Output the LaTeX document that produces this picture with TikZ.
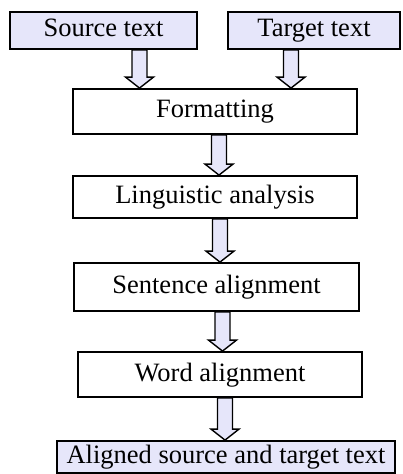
\documentclass[tikz,border=0pt]{standalone}
\usepackage{fontspec}
\setmainfont{Liberation Serif}
\usetikzlibrary{calc}

\definecolor{boxfill}{RGB}{230,230,250}

% Draw a hollow block arrow from a coordinate down to the top of a node
\newcommand{\blockarrow}[2]{%
  \draw[arrowbody] let \p1=(#1), \p2=(#1 |- #2.north) in
    (\x1-3.75pt,\y1) -- (\x1+3.75pt,\y1) -- (\x1+3.75pt,\y2+5.5pt)
    -- (\x1+7pt,\y2+5.5pt) -- (\x2,\y2) -- (\x1-7pt,\y2+5.5pt)
    -- (\x1-3.75pt,\y2+5.5pt) -- cycle;}

\tikzset{
  stage/.style={draw, line width=0.9pt, inner sep=0pt, fill=white,
    text height=9.5pt, text depth=3pt,
    font=\fontsize{13.25}{16}\selectfont},
  textbox/.style={stage, fill=boxfill},
  arrowbody/.style={draw, line width=0.7pt, fill=boxfill}
}

\begin{document}
\begin{tikzpicture}[x=0.5pt, y=-0.5pt]
  \useasboundingbox (0,0) rectangle (402,474);

  % Define the input texts
  \node[textbox, minimum width=93.5pt, minimum height=18.5pt] (src) at (103.5,30.5) {Source text};
  \node[textbox, minimum width=86pt, minimum height=18.5pt] (tgt) at (314,30.5) {Target text};

  % Define the processing steps
  \node[stage, minimum width=142pt, minimum height=22.5pt] (fmt) at (215,111.5) {Formatting};
  \node[stage, minimum width=142pt, minimum height=21pt] (ling) at (215,197) {Linguistic analysis};
  \node[stage, minimum width=142.5pt, minimum height=24pt] (sent) at (216.5,287) {Sentence alignment};
  \node[stage, minimum width=142pt, minimum height=22.5pt] (word) at (220,374.5) {Word alignment};

  % Define the output
  \node[textbox, minimum width=169pt, minimum height=16pt] (out) at (226,457) {Aligned source and target text};

  % Draw the arrows
  \coordinate (a1) at ([xshift=18pt]src.south);
  \coordinate (a2) at ([xshift=-11.5pt]tgt.south);
  \blockarrow{a1}{fmt}
  \blockarrow{a2}{fmt}
  \foreach \a/\b/\dx in {fmt/ling/2pt, ling/sent/2.5pt, sent/word/3pt, word/out/2.5pt} {
    \coordinate (s) at ([xshift=\dx]\a.south);
    \blockarrow{s}{\b}
  }

\end{tikzpicture}
\end{document}
